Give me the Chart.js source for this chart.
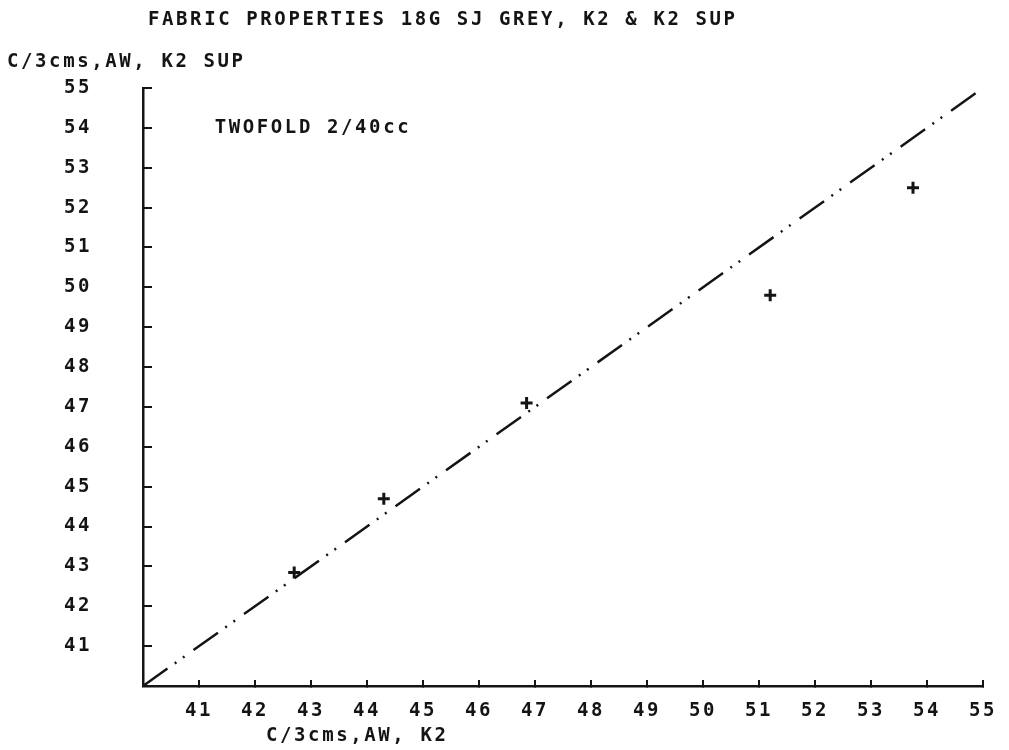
<!DOCTYPE html>
<html>
<head>
<meta charset="utf-8">
<script src="https://cdn.jsdelivr.net/npm/chart.js@4.4.1/dist/chart.umd.min.js"></script>
<style>
  html, body { margin: 0; padding: 0; background: #ffffff; }
  #wrap { width: 1009px; height: 750px; }
</style>
</head>
<body>
<div id="wrap"><canvas id="c" width="1009" height="750"></canvas></div>
<script>
// ---- data ----
const titleText = "FABRIC PROPERTIES 18G SJ GREY, K2 & K2 SUP";
const xAxisLabel = "C/3cms,AW, K2";
const yAxisLabel = "C/3cms,AW, K2 SUP";
const noteText = "TWOFOLD 2/40cc";
const xTicks = [41, 42, 43, 44, 45, 46, 47, 48, 49, 50, 51, 52, 53, 54, 55];
const yTicks = [41, 42, 43, 44, 45, 46, 47, 48, 49, 50, 51, 52, 53, 54, 55];
const pointsX = [42.7, 44.3, 46.85, 51.2, 53.75];
const pointsY = [42.85, 44.7, 47.1, 49.8, 52.5];
const lineX = [40, 55];
const lineY = [40, 55];

const FONT = "DejaVu Sans Mono";
const INK = "#141414";
const SPACING = "2.6px";
const WEIGHT = "bold";

const textPlugin = {
  id: 'plotterText',
  beforeDraw(chart) { chart.ctx.letterSpacing = SPACING; },
  afterDraw(chart) {
    const ctx = chart.ctx;
    const xs = chart.scales.x, ys = chart.scales.y;
    ctx.save();
    ctx.letterSpacing = SPACING;
    ctx.fillStyle = INK;
    ctx.font = WEIGHT + " 19px '" + FONT + "'";
    ctx.textBaseline = 'middle';
    ctx.textAlign = 'left';
    ctx.fillText(titleText, 148, 20);
    ctx.fillText(yAxisLabel, 7, 62);
    ctx.fillText(xAxisLabel, 266, 736);
    ctx.fillText(noteText, xs.getPixelForValue(41.28), ys.getPixelForValue(54.0));
    ctx.restore();
  }
};

new Chart(document.getElementById('c'), {
  type: 'scatter',
  data: {
    datasets: [
      {
        type: 'line',
        data: lineX.map((x, i) => ({ x: x, y: lineY[i] })),
        borderColor: INK,
        borderWidth: 2.5,
        borderDash: [30, 9, 2, 8, 2, 11],
        pointRadius: 0,
        fill: false,
        tension: 0
      },
      {
        data: pointsX.map((x, i) => ({ x: x, y: pointsY[i] })),
        pointStyle: 'cross',
        pointRadius: 6,
        pointBorderWidth: 3,
        borderColor: INK,
        backgroundColor: INK
      }
    ]
  },
  options: {
    responsive: false,
    animation: false,
    devicePixelRatio: 1,
    layout: { padding: { top: 88, right: 26, bottom: 0, left: 0 } },
    plugins: { legend: { display: false }, title: { display: false }, tooltip: { enabled: false } },
    scales: {
      x: {
        type: 'linear',
        min: 40, max: 55,
        afterBuildTicks: s => { s.ticks = xTicks.map(v => ({ value: v })); },
        afterFit: s => { s.height = 64; s.paddingLeft = 0; s.paddingRight = 0; },
        border: { display: true, color: INK, width: 2.5 },
        grid: { drawOnChartArea: false, drawTicks: true, tickLength: -6, color: INK, lineWidth: 2 },
        ticks: { color: INK, font: { family: FONT, size: 19, weight: WEIGHT }, padding: 20, maxRotation: 0, autoSkip: false }
      },
      y: {
        type: 'linear',
        min: 40, max: 55,
        afterBuildTicks: s => { s.ticks = yTicks.map(v => ({ value: v })); },
        afterFit: s => { s.width = 143; s.paddingTop = 0; s.paddingBottom = 0; },
        border: { display: true, color: INK, width: 2.5 },
        grid: { drawOnChartArea: false, drawTicks: true, tickLength: -9, color: INK, lineWidth: 2 },
        ticks: { color: INK, font: { family: FONT, size: 19, weight: WEIGHT }, padding: 60, autoSkip: false }
      }
    }
  },
  plugins: [textPlugin]
});
</script>
</body>
</html>
